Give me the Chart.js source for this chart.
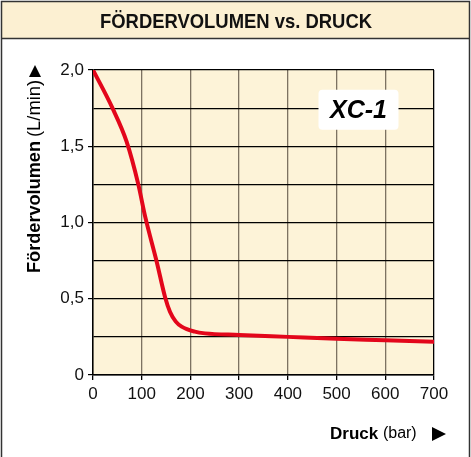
<!DOCTYPE html>
<html>
<head>
<meta charset="utf-8">
<script src="https://cdn.jsdelivr.net/npm/chart.js@4"></script>
<style>
  html, body { margin: 0; padding: 0; background: #fff; }
  #wrap { position: relative; width: 471px; height: 457px; }
</style>
</head>
<body>
<div id="wrap"><canvas id="chart" width="471" height="457"></canvas></div>
<script>
// ============ Data ============
const pressure = [0, 40, 69, 93, 107, 131, 148, 158, 170, 182, 209, 230, 300, 400, 500, 600, 700];
const flow = [2.0, 1.75, 1.53, 1.25, 1.04, 0.74, 0.51, 0.415, 0.35, 0.317, 0.284, 0.273, 0.263, 0.25, 0.237, 0.228, 0.218];
const xTicks = [0, 100, 200, 300, 400, 500, 600, 700];
const yTicks = [0, 0.25, 0.5, 0.75, 1.0, 1.25, 1.5, 1.75, 2.0];
const yLabels = { 0: '0', 0.5: '0,5', 1: '1,0', 1.5: '1,5', 2: '2,0' };
const chartTitle = 'FÖRDERVOLUMEN vs. DRUCK';
const seriesName = 'XC-1';

const FONT = '"Liberation Sans", Arial, Helvetica, sans-serif';
const BEIGE = '#fdf3d8';

// ============ Plugins ============
const framePlugin = {
    id: 'frame',
    beforeDraw(chart) {
        const { ctx, chartArea: a } = chart;
        ctx.save();
        ctx.fillStyle = '#fff';
        ctx.fillRect(0, 0, chart.width, chart.height);
        // title band
        ctx.fillStyle = '#fcf0d2';
        ctx.fillRect(2, 2, 467, 36);
        ctx.strokeStyle = '#333';
        ctx.lineWidth = 1.5;
        ctx.beginPath();
        ctx.moveTo(2, 38.5);
        ctx.lineTo(469, 38.5);
        ctx.stroke();
        ctx.strokeRect(1.5, 1.5, 468, 470);
        // plot background
        ctx.fillStyle = BEIGE;
        ctx.fillRect(a.left, a.top, a.right - a.left, a.bottom - a.top);
        // title, condensed by scaling
        ctx.fillStyle = '#111';
        ctx.font = 'bold 21px ' + FONT;
        ctx.textAlign = 'center';
        ctx.textBaseline = 'middle';
        const w = ctx.measureText(chartTitle).width;
        ctx.translate(236, 22);
        ctx.scale(272 / w, 1);
        ctx.fillText(chartTitle, 0, 0);
        ctx.restore();
    },
    afterDraw(chart) {
        const { ctx } = chart;
        const xs = chart.scales.x, ys = chart.scales.y;
        ctx.save();
        // series label box
        const cx = xs.getPixelForValue(545), cy = ys.getPixelForValue(1.74);
        ctx.fillStyle = '#fff';
        ctx.beginPath();
        ctx.roundRect(cx - 40, cy - 20, 80, 40, 4);
        ctx.fill();
        ctx.fillStyle = '#000';
        ctx.font = 'italic bold 25px ' + FONT;
        ctx.textAlign = 'center';
        ctx.textBaseline = 'middle';
        ctx.fillText(seriesName, cx, cy + 1);

        // x axis title
        ctx.textAlign = 'left';
        let x = 330, y = 434;
        ctx.font = 'bold 17px ' + FONT;
        ctx.fillText('Druck', x, y);
        x += ctx.measureText('Druck ').width;
        ctx.font = '16px ' + FONT;
        ctx.fillText('(bar)', x, y);
        ctx.beginPath();
        ctx.moveTo(432, y - 7);
        ctx.lineTo(446, y);
        ctx.lineTo(432, y + 7);
        ctx.closePath();
        ctx.fill();

        // y axis title (rotated)
        ctx.translate(35, 273);
        ctx.rotate(-Math.PI / 2);
        ctx.font = 'bold 18px ' + FONT;
        const wb = ctx.measureText('Fördervolumen').width;
        ctx.save();
        ctx.scale(132 / wb, 1);
        ctx.fillText('Fördervolumen', 0, 0);
        ctx.restore();
        ctx.font = '18px ' + FONT;
        const wr = ctx.measureText('(L/min)').width;
        ctx.save();
        ctx.translate(136, 0);
        ctx.scale(57 / wr, 1);
        ctx.fillText('(L/min)', 0, 0);
        ctx.restore();
        ctx.beginPath();
        ctx.moveTo(196, -6);
        ctx.lineTo(208, 0);
        ctx.lineTo(196, 6);
        ctx.closePath();
        ctx.fill();
        ctx.restore();
    }
};

// ============ Chart ============
const ctx = document.getElementById('chart').getContext('2d');
new Chart(ctx, {
    type: 'scatter',
    data: {
        datasets: [{
            label: seriesName,
            data: pressure.map((p, i) => ({ x: p, y: flow[i] })),
            showLine: true,
            borderColor: '#e3061b',
            borderWidth: 4,
            pointRadius: 0,
            cubicInterpolationMode: 'monotone',
            borderCapStyle: 'round'
        }]
    },
    options: {
        responsive: false,
        animation: false,
        layout: { padding: { left: 0, top: 70, right: 37, bottom: 0 } },
        plugins: { legend: { display: false }, tooltip: { enabled: false } },
        scales: {
            x: {
                type: 'linear',
                min: 0, max: 700,
                afterFit: s => { s.height = 82; },
                afterBuildTicks: s => { s.ticks = xTicks.map(v => ({ value: v })); },
                ticks: {
                    color: '#111',
                    font: { family: FONT, size: 17 },
                    padding: 4,
                    maxRotation: 0,
                    callback: v => String(v)
                },
                grid: {
                    color: c => c.tick && c.tick.value === 700 ? '#000' : '#7d7262',
                    tickColor: '#000',
                    tickLength: 5,
                    lineWidth: 1.3
                },
                border: { color: '#000', width: 1.5 }
            },
            y: {
                min: 0, max: 2,
                afterFit: s => { s.width = 93; },
                afterBuildTicks: s => { s.ticks = yTicks.map(v => ({ value: v })); },
                ticks: {
                    color: '#111',
                    font: { family: FONT, size: 17 },
                    padding: 4,
                    callback: v => yLabels[v] !== undefined ? yLabels[v] : ''
                },
                grid: {
                    color: '#000',
                    tickColor: c => c.tick && yLabels[c.tick.value] !== undefined ? '#000' : 'rgba(0,0,0,0)',
                    tickLength: 5,
                    lineWidth: 1.2
                },
                border: { color: '#000', width: 1.5 }
            }
        }
    },
    plugins: [framePlugin]
});
</script>
</body>
</html>
